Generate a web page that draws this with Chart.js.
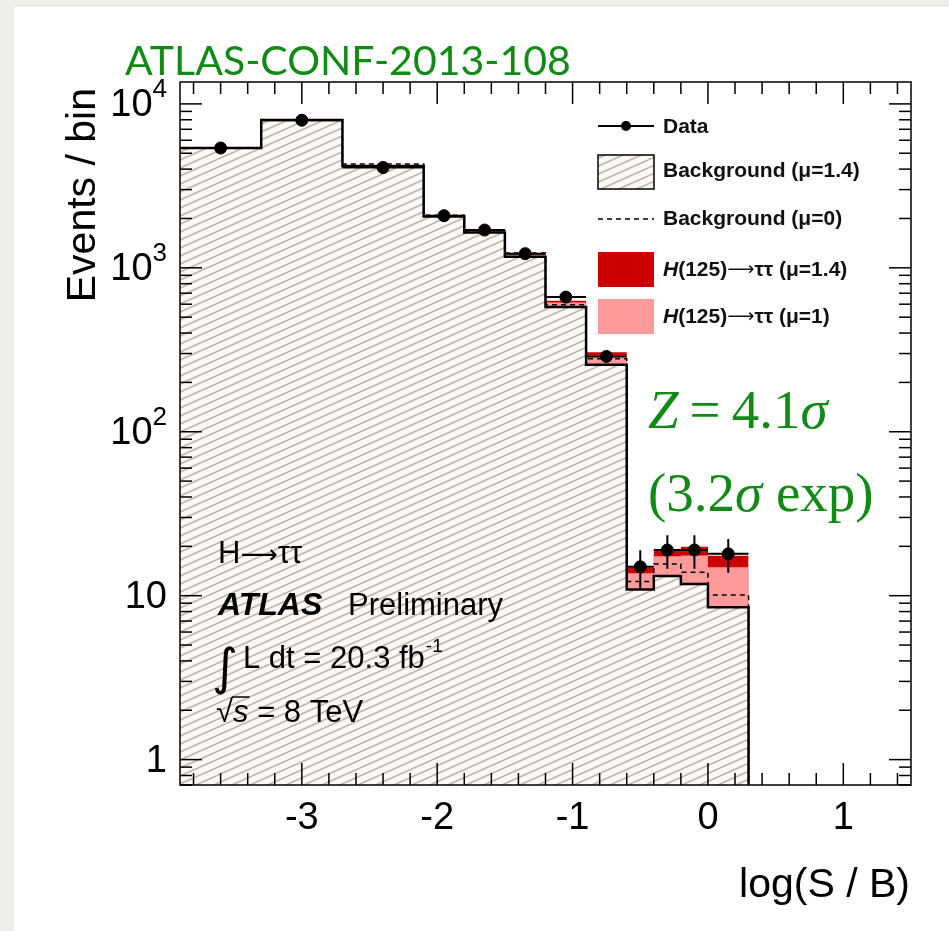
<!DOCTYPE html>
<html>
<head>
<meta charset="utf-8">
<script src="https://cdn.jsdelivr.net/npm/chart.js@4.4.1/dist/chart.umd.min.js"></script>
<style>
  html, body { margin: 0; padding: 0; background: #efede9; }
  #wrap { position: relative; width: 949px; height: 931px; }
</style>
</head>
<body>
<div id="wrap"><canvas id="sbChart"></canvas></div>
<script>
// log(S/B) bin edges and per-bin yields
const binEdges = [-3.9, -3.3, -2.7, -2.1, -1.8, -1.5, -1.2, -0.9, -0.6, -0.4, -0.2, 0.0, 0.3];
const dataCounts = [5380, 7950, 4090, 2080, 1700, 1220, 663, 288, 15, 19, 19, 18];
const dataErrors = [73, 89, 64, 46, 41, 35, 26, 17, 3.9, 4.4, 4.4, 4.2];
const bkgFit = [5378, 7970, 4176, 2058, 1642, 1167, 576, 256, 10.9, 13.2, 11.8, 8.5];
const bkgNoSignal = [5400, 8000, 4300, 2090, 1690, 1230, 595, 279, 12.2, 15.6, 13.9, 10.1];
const higgsMu14 = [2, 11, 24, 25, 40, 55, 53, 50, 3.9, 5.9, 8.1, 9.0];
const higgsMu1 = [1.4, 8, 17, 18, 29, 39, 38, 36, 2.8, 4.2, 5.8, 6.4];

const xTickValues = [-3, -2, -1, 0, 1];
const xTickLabels = ['-3', '-2', '-1', '0', '1'];
const yTickValues = [1, 10, 100, 1000, 10000];
const yTickLabels = ['1', '10', '10^2', '10^3', '10^4'];

const X_MIN = -3.9, X_MAX = 1.5;
const Y_MIN = 0.7, Y_MAX = 13600;

const RED = '#cc0000';
const PINK = '#ff9a9a';
const GREEN = '#128a16';
const SANS = '"Liberation Sans", Arial, sans-serif';
const SERIF = '"Liberation Serif", "Times New Roman", serif';

// histogram outline as step points; last point drops to the axis floor
function stepPoints(values) {
  const pts = [];
  values.forEach((v, i) => {
    pts.push({ x: binEdges[i], y: v });
    pts.push({ x: binEdges[i + 1], y: v });
  });
  pts.push({ x: binEdges[binEdges.length - 1], y: Y_MIN });
  return pts;
}

function stacked(a, b) {
  return a.map((v, i) => v + b[i]);
}

// data markers with horizontal (bin width) and vertical (stat) error bars
function errorBarPoints() {
  const pts = [];
  dataCounts.forEach((n, i) => {
    const lo = binEdges[i], hi = binEdges[i + 1], c = (lo + hi) / 2;
    pts.push({ x: lo, y: n }, { x: hi, y: n }, { x: c, y: null });
    pts.push({ x: c, y: n - dataErrors[i] }, { x: c, y: n + dataErrors[i] }, { x: c, y: null });
  });
  return pts;
}

function dataPoints() {
  return dataCounts.map((n, i) => ({ x: (binEdges[i] + binEdges[i + 1]) / 2, y: n }));
}

function makeHatch(ctx) {
  const c = document.createElement('canvas');
  c.width = 18; c.height = 8;
  const g = c.getContext('2d');
  g.fillStyle = '#fbfaf8';
  g.fillRect(0, 0, 18, 8);
  g.strokeStyle = '#c2b9ad';
  g.lineWidth = 1.7;
  for (let k = -1; k <= 1; k++) {
    g.beginPath();
    g.moveTo(0, 8 + 8 * k);
    g.lineTo(18, 8 * k);
    g.stroke();
  }
  return ctx.createPattern(c, 'repeat');
}

const canvas = document.getElementById('sbChart');
const hatch = makeHatch(canvas.getContext('2d'));

function seg(ctx, x0, y0, x1, y1) {
  ctx.beginPath();
  ctx.moveTo(x0, y0);
  ctx.lineTo(x1, y1);
  ctx.stroke();
}

// draws a run of [text, font] pieces left to right, returns end x
function textRun(ctx, pieces, x, y) {
  pieces.forEach(([t, f]) => {
    ctx.font = f;
    ctx.fillText(t, x, y);
    x += ctx.measureText(t).width;
  });
  return x;
}

const pagePanel = {
  id: 'pagePanel',
  beforeDraw(chart) {
    const ctx = chart.ctx;
    ctx.save();
    ctx.fillStyle = '#efede9';
    ctx.fillRect(0, 0, chart.width, chart.height);
    ctx.fillStyle = '#ffffff';
    ctx.fillRect(14, 7, chart.width - 14, chart.height - 7);
    ctx.restore();
  }
};

const frameAndAxes = {
  id: 'frameAndAxes',
  afterDraw(chart) {
    const { ctx, chartArea: a, scales: { x, y } } = chart;
    ctx.save();
    ctx.strokeStyle = '#000';
    ctx.lineWidth = 1.5;
    ctx.strokeRect(a.left, a.top, a.right - a.left, a.bottom - a.top);

    // inward ticks on all four sides
    for (let i = -20; i <= 8; i++) {
      const v = i / 5;
      const px = x.getPixelForValue(v);
      if (px < a.left + 2 || px > a.right - 2) continue;
      const len = i % 5 === 0 ? 22 : 12;
      seg(ctx, px, a.bottom, px, a.bottom - len);
      seg(ctx, px, a.top, px, a.top + len);
    }
    for (let e = -1; e <= 4; e++) {
      for (let m = 1; m <= 9; m++) {
        const v = m * Math.pow(10, e);
        if (v < Y_MIN || v > Y_MAX) continue;
        const py = y.getPixelForValue(v);
        const len = m === 1 ? 22 : 12;
        seg(ctx, a.left, py, a.left + len, py);
        seg(ctx, a.right, py, a.right - len, py);
      }
    }

    ctx.fillStyle = '#000';
    ctx.font = '38px ' + SANS;
    ctx.textAlign = 'center';
    ctx.textBaseline = 'alphabetic';
    xTickValues.forEach((v, i) => {
      ctx.fillText(xTickLabels[i], x.getPixelForValue(v), 829);
    });

    const labelRight = 167;
    yTickValues.forEach((v, i) => {
      const py = y.getPixelForValue(v);
      const [base, exp] = yTickLabels[i].split('^');
      ctx.textBaseline = 'middle';
      ctx.textAlign = 'right';
      if (exp) {
        ctx.font = '26px ' + SANS;
        const ew = ctx.measureText(exp).width;
        ctx.fillText(exp, labelRight, py - 14);
        ctx.font = '38px ' + SANS;
        ctx.fillText(base, labelRight - ew, py + 2);
      } else {
        ctx.font = '38px ' + SANS;
        ctx.fillText(base, labelRight, py + 2);
      }
    });

    // axis titles
    ctx.font = '41px ' + SANS;
    ctx.textAlign = 'right';
    ctx.textBaseline = 'alphabetic';
    ctx.fillText('log(S / B)', 910, 897);
    ctx.save();
    ctx.translate(95, 88);
    ctx.rotate(-Math.PI / 2);
    ctx.fillText('Events / bin', 0, 0);
    ctx.restore();
    ctx.restore();
  }
};

const legendAndNotes = {
  id: 'legendAndNotes',
  afterDraw(chart) {
    const ctx = chart.ctx;
    const x0 = 598, x1 = 654, tx = 663;
    ctx.save();
    ctx.strokeStyle = '#000';
    ctx.fillStyle = '#000';

    // Data
    ctx.lineWidth = 2;
    seg(ctx, x0, 126, x1, 126);
    ctx.beginPath();
    ctx.arc((x0 + x1) / 2, 126, 5, 0, Math.PI * 2);
    ctx.fill();
    // Background (mu=1.4)
    ctx.fillStyle = hatch;
    ctx.fillRect(x0, 155, x1 - x0, 34);
    ctx.lineWidth = 1.5;
    ctx.strokeRect(x0, 155, x1 - x0, 34);
    // Background (mu=0)
    ctx.setLineDash([5, 4]);
    seg(ctx, x0, 219, x1, 219);
    ctx.setLineDash([]);
    // Higgs boxes
    ctx.fillStyle = RED;
    ctx.fillRect(x0, 252, x1 - x0, 35);
    ctx.fillStyle = PINK;
    ctx.fillRect(x0, 299, x1 - x0, 35);

    ctx.fillStyle = '#111';
    ctx.textAlign = 'left';
    ctx.textBaseline = 'middle';
    const bold = 'bold 21px ' + SANS;
    ctx.font = bold;
    ctx.fillText('Data', tx, 127);
    ctx.fillText('Background (\u03bc=1.4)', tx, 171);
    ctx.fillText('Background (\u03bc=0)', tx, 219);
    [['(\u03bc=1.4)', 270], ['(\u03bc=1)', 317]].forEach(([mu, yy]) => {
      textRun(ctx, [
        ['H', 'italic ' + bold],
        ['(125)', bold],
        ['\u27f6', '19px "DejaVu Sans", sans-serif'],
        ['\u03c4\u03c4 ' + mu, bold]
      ], tx, yy);
    });

    // analysis labels inside the frame
    ctx.fillStyle = '#000';
    ctx.textBaseline = 'alphabetic';
    const reg = '31px ' + SANS;
    textRun(ctx, [
      ['H', reg],
      ['\u27f6', '26px "DejaVu Sans", sans-serif'],
      ['\u03c4\u03c4', reg]
    ], 218, 563);
    ctx.font = 'italic bold 32px ' + SANS;
    ctx.fillText('ATLAS', 218, 615);
    ctx.font = reg;
    ctx.fillText('Preliminary', 348, 615);
    ctx.font = '50px "DejaVu Sans", sans-serif';
    ctx.fillText('\u222b', 212, 684);
    ctx.font = reg;
    ctx.fillText('L dt = 20.3 fb', 243, 668);
    const fbw = ctx.measureText('L dt = 20.3 fb').width;
    ctx.font = '19px ' + SANS;
    ctx.fillText('-1', 243 + fbw + 1, 652);
    ctx.font = reg;
    ctx.fillText('\u221a', 216, 722);
    const rw = ctx.measureText('\u221a').width;
    ctx.font = 'italic 31px ' + SANS;
    ctx.fillText('s', 216 + rw, 722);
    const sw = ctx.measureText('s').width;
    ctx.lineWidth = 1.5;
    seg(ctx, 216 + rw - 1, 697, 216 + rw + sw + 1, 697);
    ctx.font = reg;
    ctx.fillText(' = 8 TeV', 216 + rw + sw, 722);

    // significance
    ctx.fillStyle = GREEN;
    const zf = '55px ' + SERIF;
    textRun(ctx, [
      ['Z', 'italic ' + zf],
      ['\u2009=\u20094.1', zf],
      ['\u03c3', 'italic ' + zf]
    ], 648, 428);
    textRun(ctx, [
      ['(3.2', zf],
      ['\u03c3', 'italic ' + zf],
      [' exp)', zf]
    ], 648, 511);

    // note reference above the frame
    ctx.font = '41px Lato, "Open Sans", sans-serif';
    ctx.fillText('ATLAS-CONF-2013-108', 125, 75);
    ctx.restore();
  }
};

new Chart(canvas, {
  type: 'line',
  data: {
    datasets: [
      {
        label: 'Data',
        data: dataPoints(),
        showLine: false,
        pointRadius: 6,
        pointBackgroundColor: '#000',
        pointBorderColor: '#000',
        order: 0
      },
      {
        label: 'Data errors',
        data: errorBarPoints(),
        borderColor: '#000',
        borderWidth: 2,
        pointRadius: 0,
        spanGaps: false,
        order: 1
      },
      {
        label: 'Background (mu=0)',
        data: stepPoints(bkgNoSignal),
        borderColor: '#000',
        borderWidth: 1.5,
        borderDash: [5, 4],
        pointRadius: 0,
        fill: false,
        order: 2
      },
      {
        label: 'Background outline',
        data: stepPoints(bkgFit),
        borderColor: '#000',
        borderWidth: 2.5,
        pointRadius: 0,
        fill: false,
        order: 3
      },
      {
        label: 'H(125) mu=1',
        data: stepPoints(stacked(bkgFit, higgsMu1)),
        borderWidth: 0,
        pointRadius: 0,
        backgroundColor: PINK,
        fill: { target: 6 },
        order: 4
      },
      {
        label: 'H(125) mu=1.4',
        data: stepPoints(stacked(bkgFit, higgsMu14)),
        borderWidth: 0,
        pointRadius: 0,
        backgroundColor: RED,
        fill: { target: 6 },
        order: 5
      },
      {
        label: 'Background (mu=1.4)',
        data: stepPoints(bkgFit),
        borderWidth: 0,
        pointRadius: 0,
        backgroundColor: hatch,
        fill: 'start',
        order: 6
      }
    ]
  },
  options: {
    responsive: true,
    maintainAspectRatio: false,
    animation: false,
    devicePixelRatio: 1,
    layout: { padding: { left: 180, right: 38, top: 82, bottom: 146 } },
    elements: { line: { tension: 0 } },
    plugins: {
      legend: { display: false },
      tooltip: { enabled: false }
    },
    scales: {
      x: { type: 'linear', min: X_MIN, max: X_MAX, bounds: 'data', display: false },
      y: { type: 'logarithmic', min: Y_MIN, max: Y_MAX, display: false }
    }
  },
  plugins: [pagePanel, frameAndAxes, legendAndNotes]
});
</script>
</body>
</html>
